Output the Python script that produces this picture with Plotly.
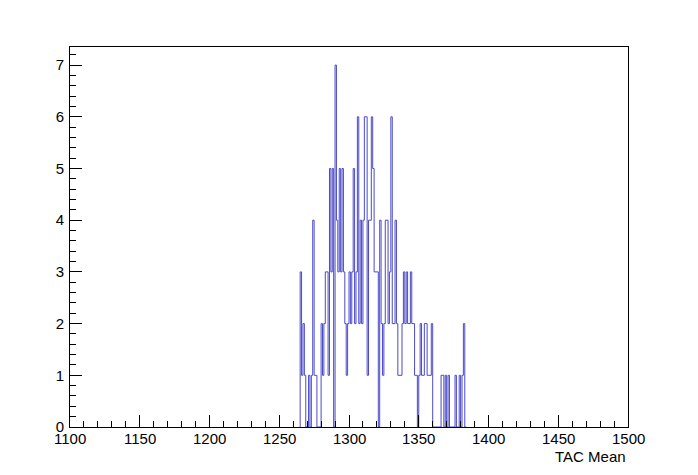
import plotly.graph_objects as go

# Histogram of TAC Mean, 1-unit bins starting at 1265
bin_start = 1265
bin_width = 1
counts = [3, 1, 2, 1, 0, 0, 1, 0, 1, 4,   # 1265-1274
          1, 1, 0, 0, 0, 2, 1, 2, 3, 3,   # 1275-1284
          1, 5, 3, 5, 0, 7, 4, 3, 5, 3,   # 1285-1294
          5, 3, 2, 1, 2, 3, 2, 3, 5, 2,   # 1295-1304
          3, 6, 2, 4, 2, 4, 6, 6, 1, 4,   # 1305-1314
          4, 6, 5, 3, 3, 3, 0, 4, 2, 1,   # 1315-1324
          2, 4, 4, 2, 3, 6, 2, 2, 4, 2,   # 1325-1334
          1, 1, 1, 2, 3, 2, 3, 2, 2, 3,   # 1335-1344
          2, 2, 1, 1, 0, 1, 2, 1, 1, 2,   # 1345-1354
          2, 1, 1, 1, 2, 0, 0, 0, 0, 0,   # 1355-1364
          0, 1, 1, 0, 1, 0, 1, 0, 0, 0,   # 1365-1374
          0, 1, 0, 0, 1, 0, 1, 2, 0]      # 1375-1383

x_range = [1100, 1500]
x_ticks = [1100, 1150, 1200, 1250, 1300, 1350, 1400, 1450, 1500]
y_ticks = [0, 1, 2, 3, 4, 5, 6, 7]
x_title = "TAC Mean"

# build step outline (ROOT "HIST" style)
xs = [bin_start]
ys = [0]
for i, c in enumerate(counts):
    left = bin_start + i * bin_width
    xs += [left, left + bin_width]
    ys += [c, c]
xs.append(bin_start + len(counts) * bin_width)
ys.append(0)

fig = go.Figure()
fig.add_trace(go.Scatter(x=xs, y=ys, mode="lines",
                         line=dict(color="#4a4ac8", width=1),
                         hoverinfo="skip", showlegend=False))

font = dict(family="Liberation Sans, Arial, Helvetica, sans-serif", size=15, color="black")

annotations = [dict(text=str(v), xref="x", yref="paper", x=v, y=0,
                    xanchor="center", yanchor="top", yshift=-1, showarrow=False,
                    font=font) for v in x_ticks]
annotations.append(dict(text=x_title, xref="paper", yref="paper", x=1.0, y=0,
                        xanchor="right", yanchor="top", yshift=-19, showarrow=False,
                        font=font))

fig.update_layout(
    width=698, height=475,
    margin=dict(l=62, r=78, t=39, b=56, autoexpand=False),
    paper_bgcolor="white", plot_bgcolor="white",
    font=font,
    xaxis=dict(range=x_range, tickvals=x_ticks, showticklabels=False,
               ticks="inside", ticklen=12, tickwidth=1, tickcolor="black",
               minor=dict(dtick=10, ticks="inside", ticklen=6, tickwidth=1, tickcolor="black"),
               showline=True, linecolor="black", linewidth=1, mirror=True,
               showgrid=False, zeroline=False, automargin=False),
    yaxis=dict(range=[0, 7.35], tickvals=y_ticks, ticktext=[str(v) for v in y_ticks],
               ticks="inside", ticklen=12, tickwidth=1, tickcolor="black",
               minor=dict(dtick=0.2, ticks="inside", ticklen=6, tickwidth=1, tickcolor="black"),
               showline=True, linecolor="black", linewidth=1, mirror=True,
               showgrid=False, zeroline=False, tickfont=font, automargin=False,
               ticklabelstandoff=2),
    annotations=annotations,
)

fig.write_html("out.html")
